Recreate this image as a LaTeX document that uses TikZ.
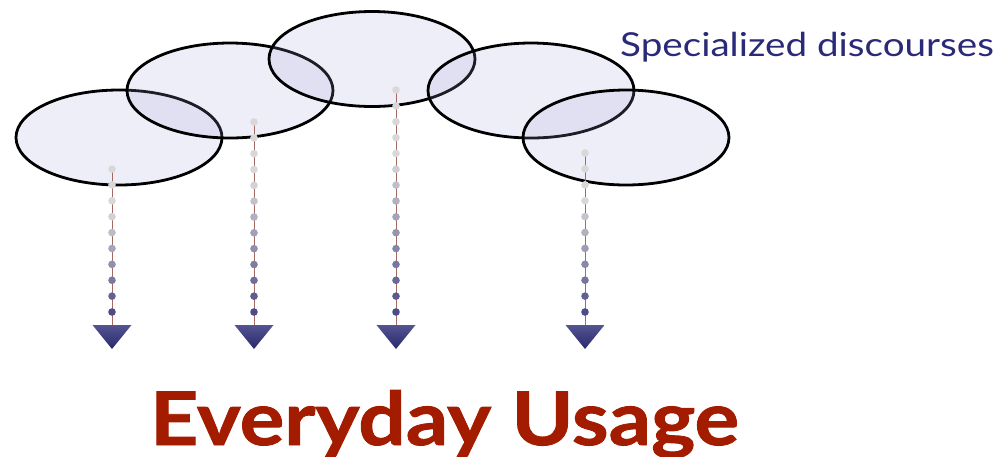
\documentclass[tikz,border=0pt]{standalone}
\usepackage{fontspec}
\usetikzlibrary{calc}
\newfontfamily\labelfont[FakeStretch=1.17]{Lato}
\newfontfamily\usagefont[FakeStretch=1.13, BoldFeatures={FakeBold=1.2}]{Lato}

\definecolor{discfill}{RGB}{161,161,216}
\definecolor{dotlight}{RGB}{216,216,216}
\definecolor{dotdark}{RGB}{76,76,136}
\definecolor{stemcol}{RGB}{165,105,98}
\definecolor{headtop}{RGB}{84,84,146}
\definecolor{headbot}{RGB}{40,40,108}
\definecolor{navytext}{RGB}{42,42,120}
\definecolor{usagered}{RGB}{164,28,0}

\tikzset{
  discourse/.style={draw=black, line width=2.8pt, fill=discfill, fill opacity=0.18, draw opacity=1},
  stem/.style={draw=stemcol, line width=0.9pt},
  arrowhead/.style={top color=headtop, bottom color=headbot, draw=none},
}

\begin{document}
\begin{tikzpicture}[x=1pt,y=-1pt]
  \useasboundingbox (0,0) rectangle (1003,456);

  % overlapping specialized discourses
  \foreach \cx/\cy [count=\e] in {119/137.5, 230/90.5, 372/59, 531/90.5, 626/137.5}
    \draw[discourse] (\cx,\cy) ellipse [x radius=103pt, y radius=47.5pt];

  % dotted descents towards everyday usage
  \foreach \x/\ytop/\n [count=\k] in {112/169/10, 254/122/13, 396/90/15, 585/153/11} {
    \coordinate (top\k) at (\x,\ytop);
    \coordinate (base\k) at (\x,325);
    \coordinate (tip\k) at (\x,349);
    \draw[stem] (top\k) -- (base\k);
    \pgfmathsetmacro{\sp}{(312-\ytop)/(\n-1)}
    \pgfmathtruncatemacro{\last}{\n-1}
    \foreach \i in {0,...,\last} {
      \pgfmathsetmacro{\f}{\i/\last}
      \pgfmathtruncatemacro{\pct}{100*max(0,(\f-0.3)/0.7)}
      \colorlet{dotcol}{dotdark!\pct!dotlight}
      \fill[dotcol] ($(top\k)+(0,\i*\sp)$) circle (3.8pt);
    }
    \shade[arrowhead] ($(tip\k)+(-19.5,-24)$) -- ($(tip\k)+(19.5,-24)$) -- (tip\k) -- cycle;
  }

  \node[anchor=base west, inner sep=0pt, text=navytext, font=\labelfont\fontsize{33}{36}\selectfont]
    (spec) at (620,56) {Specialized discourses};
  \node[anchor=base west, inner sep=0pt, text=usagered, font=\usagefont\bfseries\fontsize{74}{80}\selectfont]
    (usage) at (150,445) {Everyday Usage};
\end{tikzpicture}
\end{document}
